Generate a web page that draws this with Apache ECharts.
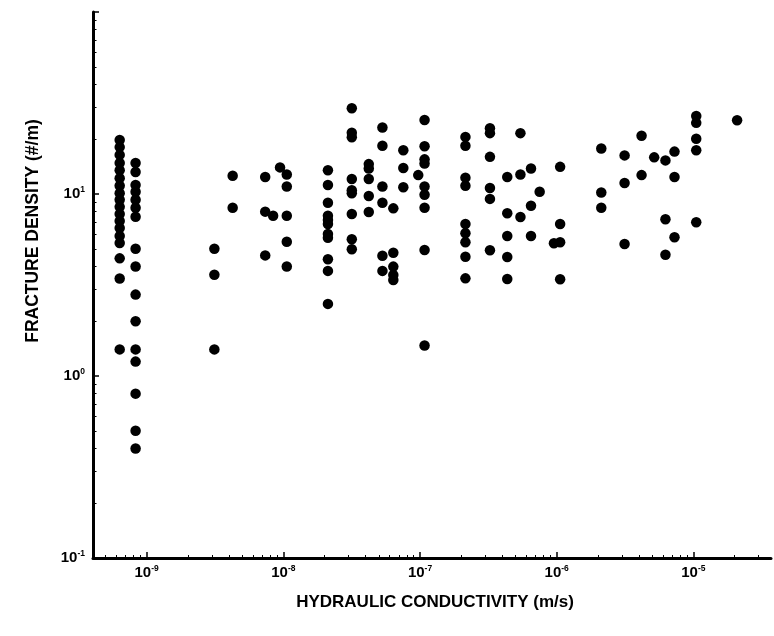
<!DOCTYPE html>
<html>
<head>
<meta charset="utf-8">
<script src="https://cdn.jsdelivr.net/npm/echarts@6/dist/echarts.min.js"></script>
<style>
html,body{margin:0;padding:0;background:#fff;}
#chart{width:774px;height:636px;}
</style>
</head>
<body>
<div id="chart"></div>
<script>
// Hydraulic conductivity (m/s) of each measurement group
const conductivity = [
  6.35e-10, 8.3e-10, 3.13e-9, 4.26e-9, 7.37e-9, 8.42e-9, 9.46e-9, 1.06e-8,
  2.12e-8, 3.17e-8, 4.22e-8, 5.31e-8, 6.38e-8, 7.55e-8, 9.71e-8, 1.08e-7,
  2.15e-7, 3.25e-7, 4.35e-7, 5.43e-7, 6.49e-7, 7.51e-7, 9.55e-7, 1.06e-6,
  2.12e-6, 3.14e-6, 4.18e-6, 5.17e-6, 6.25e-6, 7.28e-6, 1.05e-5, 2.09e-5
];
// Fracture density (#/m) measured at each conductivity
const fractureDensity = [
  [19.8, 18.1, 16.4, 14.8, 13.5, 12.2, 11.1, 10.1, 9.3, 8.5, 7.76, 7.1, 6.5, 5.88, 5.38, 4.43, 3.43, 1.40],
  [14.8, 13.2, 11.2, 10.3, 9.3, 8.4, 7.5, 5.0, 4.0, 2.8, 2.0, 1.40, 1.20, 0.80, 0.50, 0.40],
  [5.0, 3.6, 1.4],
  [12.6, 8.4],
  [12.4, 8.0, 4.6],
  [7.6],
  [14.0],
  [12.8, 11.0, 7.6, 5.47, 4.0],
  [13.5, 11.2, 8.96, 7.6, 7.19, 6.84, 6.03, 5.75, 4.38, 3.78, 2.49],
  [29.6, 21.7, 20.5, 12.1, 10.5, 10.1, 7.76, 5.64, 4.97],
  [14.6, 13.8, 12.1, 9.75, 7.96],
  [23.2, 18.4, 11.0, 8.96, 4.58, 3.78],
  [8.34, 4.76, 3.99, 3.59, 3.37],
  [17.4, 13.9, 10.9],
  [12.7],
  [25.5, 18.3, 15.5, 14.7, 11.0, 9.9, 8.41, 4.92, 1.47],
  [20.6, 18.4, 12.3, 11.1, 6.84, 6.08, 5.43, 4.52, 3.44],
  [23.0, 21.6, 16.0, 10.8, 9.4, 4.91],
  [12.4, 7.83, 5.88, 4.51, 3.41],
  [21.6, 12.8, 7.47],
  [13.8, 8.62, 5.88],
  [10.3],
  [5.36],
  [14.1, 6.84, 5.43, 3.40],
  [17.8, 10.2, 8.41],
  [16.3, 11.5, 5.31],
  [20.9, 12.7],
  [15.9],
  [15.3, 7.26, 4.64],
  [17.1, 12.4, 5.78],
  [26.8, 24.6, 20.1, 17.4, 6.99],
  [25.4]
];
const xRange = [4.05e-10, 3.7e-5];
const yRange = [0.1, 100];
const xDecades = [-10, -9, -8, -7, -6, -5, -4];
const yDecades = [-1, 0, 1, 2];
const minorSteps = [2, 3, 4, 5, 6, 7, 8, 9];
const xTitle = 'HYDRAULIC CONDUCTIVITY (m/s)';
const yTitle = 'FRACTURE DENSITY (#/m)';
const hiddenYExponents = [2];

const points = [];
conductivity.forEach((k, i) => {
  fractureDensity[i].forEach(d => points.push([k, d]));
});

function inRange(vals, r) {
  const a = Math.log10(r[0]) + 1e-9, b = Math.log10(r[1]) - 1e-9;
  return vals.filter(v => v > a && v < b);
}
function majorLog(decades, r) { return inRange(decades.slice(), r); }
function minorLog(decades, r) {
  const out = [];
  decades.forEach(d => minorSteps.forEach(s => out.push(d + Math.log10(s))));
  return inRange(out, r);
}

function decadeLabel(hidden) {
  return function (v) {
    const l = Math.log10(v);
    const e = Math.round(l);
    if (Math.abs(l - e) > 1e-6 || hidden.indexOf(e) >= 0) return '';
    return '{b|10}{s|' + e + '}';
  };
}
const rich = {
  b: {fontSize: 15, fontWeight: 'bold', color: '#000', fontFamily: 'Liberation Sans', lineHeight: 17},
  s: {fontSize: 8.5, fontWeight: 'bold', color: '#000', fontFamily: 'Liberation Sans', verticalAlign: 'top', lineHeight: 9}
};

function tickAxis(dim, vals, len, width, r) {
  return {
    type: 'value', gridIndex: 0,
    min: Math.log10(r[0]), max: Math.log10(r[1]),
    position: dim === 'x' ? 'bottom' : 'left',
    offset: 0,
    axisLine: {show: false, onZero: false},
    axisLabel: {show: false},
    splitLine: {show: false},
    axisTick: {show: true, inside: true, length: len, customValues: vals,
      lineStyle: {color: '#000', width: width}}
  };
}

const chart = echarts.init(document.getElementById('chart'));
chart.setOption({
  animation: false,
  backgroundColor: '#fff',
  grid: {left: 93, right: 0, top: 12, bottom: 78, containLabel: false},
  xAxis: [{
    type: 'log', logBase: 10, min: xRange[0], max: xRange[1],
    position: 'bottom',
    splitLine: {show: false},
    axisLine: {onZero: false, lineStyle: {color: '#000', width: 3}},
    axisTick: {show: false},
    axisLabel: {formatter: decadeLabel([]), rich: rich, margin: 6, color: '#000'},
    name: xTitle, nameLocation: 'middle', nameGap: 36,
    nameTextStyle: {fontSize: 17, fontWeight: 'bold', color: '#000', fontFamily: 'Liberation Sans',
      padding: [0, 0, 0, 6]}
  },
    tickAxis('x', majorLog(xDecades, xRange), 6, 1.5, xRange),
    tickAxis('x', minorLog(xDecades, xRange), 3, 1, xRange)
  ],
  yAxis: [{
    type: 'log', logBase: 10, min: yRange[0], max: yRange[1],
    position: 'left',
    splitLine: {show: false},
    axisLine: {onZero: false, lineStyle: {color: '#000', width: 3}},
    axisTick: {show: false},
    axisLabel: {formatter: decadeLabel(hiddenYExponents), rich: rich, margin: 8, color: '#000'}
  },
    tickAxis('y', majorLog(yDecades, yRange).concat([2]), 6, 1.5, yRange),
    tickAxis('y', minorLog(yDecades, yRange), 3.5, 1, yRange)
  ],
  graphic: [{
    type: 'text', x: 33, y: 231, rotation: Math.PI / 2,
    style: {text: yTitle, fontSize: 17.5, fontWeight: 'bold', fill: '#000', fontFamily: 'Liberation Sans',
      textAlign: 'center', textVerticalAlign: 'middle'}
  }],
  series: [{
    type: 'scatter', xAxisIndex: 0, yAxisIndex: 0, data: points, symbol: 'circle', symbolSize: 10.5,
    itemStyle: {color: '#000', opacity: 1}
  }]
});
</script>
</body>
</html>
